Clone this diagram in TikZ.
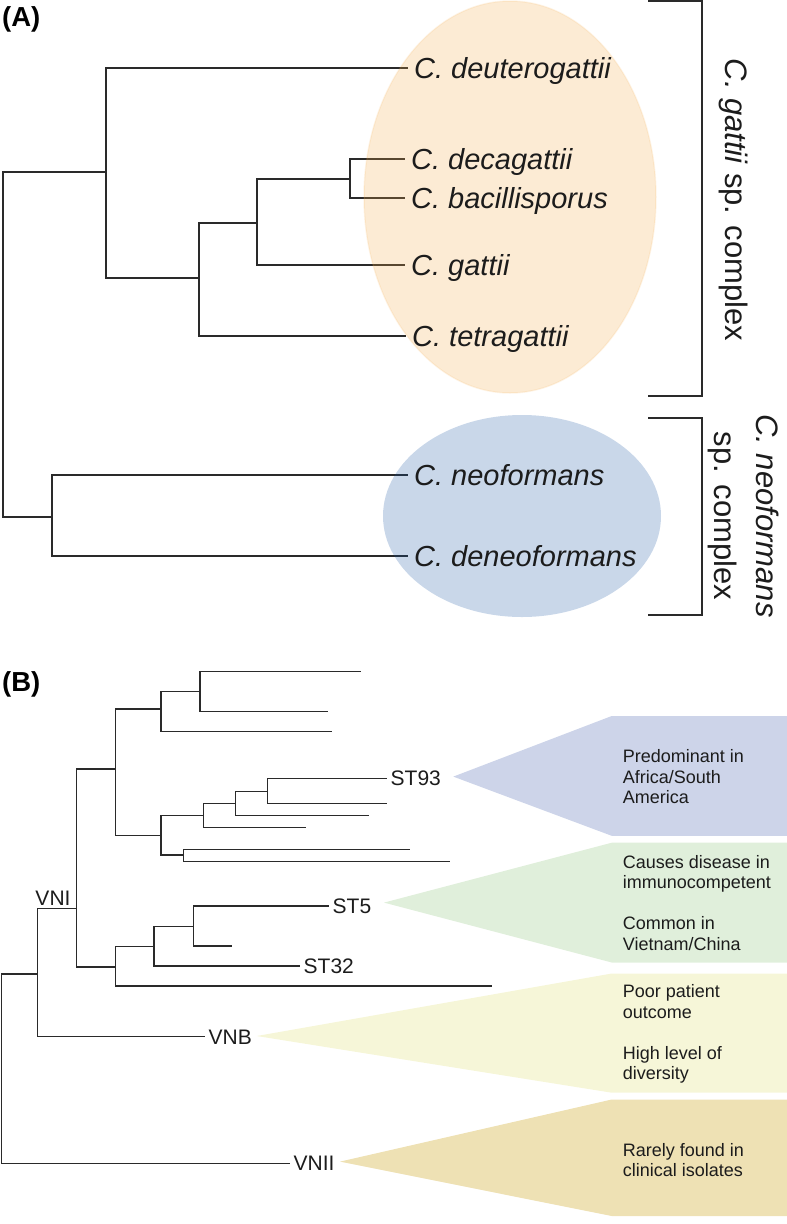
\documentclass[tikz,border=0pt]{standalone}
\usepackage{fontspec}
\setmainfont{Liberation Sans}
\usepackage{tikz}
\usetikzlibrary{calc,backgrounds}
\pgfdeclarelayer{tree}
\pgfdeclarelayer{tint}
\pgfsetlayers{tree,tint,main}
\definecolor{treeInk}{HTML}{2A2A2A}
\definecolor{textInk}{HTML}{1C1C1C}
\definecolor{gattiiTint}{HTML}{F2A844}
\definecolor{neoTint}{HTML}{14519F}
\definecolor{wedgeBlue}{HTML}{CDD4E9}
\definecolor{wedgeGreen}{HTML}{E0EFDB}
\definecolor{wedgeYellow}{HTML}{F6F6D8}
\definecolor{wedgeTan}{HTML}{EEE1B4}

\begin{document}
\begin{tikzpicture}[
    x=1pt, y=-1pt,
    clade/.style={draw=treeInk, line width=2.4pt},
    twig/.style={draw=treeInk, line width=1.3pt},
    taxon/.style={anchor=west, inner xsep=6pt, inner ysep=0pt, text height=20.8pt, text depth=0pt, text=textInk, font=\fontsize{29}{34}\selectfont\itshape},
    tag/.style={anchor=west, inner xsep=3.5pt, inner ysep=0pt, text height=15pt, text depth=0pt, text=textInk, font=\fontsize{21}{25}\selectfont},
    note/.style={anchor=west, align=left, inner sep=0pt, text=textInk, font=\fontsize{18}{20.5}\selectfont},
    panel/.style={anchor=base west, inner sep=0pt, font=\fontsize{27.5}{32}\selectfont\bfseries},
    group/.style={rotate=-90, inner sep=0pt, text=textInk, font=\fontsize{31}{42}\selectfont},
    bracket/.style={draw=treeInk, line width=2pt}
]
    \useasboundingbox (0,0) rectangle (787,1224);

    % (A) species tree
    \node[panel] (pA) at (2,26.7) {(A)};

    \coordinate (rA) at (3,344);
    \coordinate (gA) at (106,172);
    \coordinate (g2) at (199,278);
    \coordinate (g3) at (257,223);
    \coordinate (g4) at (350,179);
    \coordinate (nA) at (52,517);

    \node[taxon] (deut) at (408,68) {C. deuterogattii};
    \node[taxon] (deca) at (405,159) {C. decagattii};
    \node[taxon] (baci) at (405,198) {C. bacillisporus};
    \node[taxon] (gatt) at (405,265) {C. gattii};
    \node[taxon] (tetr) at (406,336) {C. tetragattii};
    \node[taxon] (neof) at (408,475) {C. neoformans};
    \node[taxon] (dene) at (408,556) {C. deneoformans};

    \begin{pgfonlayer}{tint}
        \fill[gattiiTint, fill opacity=0.23] (510,197) ellipse [x radius=146, y radius=196];
        \draw[gattiiTint, draw opacity=0.12, line width=1.5pt] (510,197) ellipse [x radius=146, y radius=196];
        \fill[neoTint, fill opacity=0.23] (522,516) ellipse [x radius=139, y radius=101];
    \end{pgfonlayer}

    \begin{pgfonlayer}{tree}
        \draw[clade] (rA) |- (gA);
        \draw[clade] (rA) |- (nA);
        \draw[clade] (gA) |- (deut.west);
        \draw[clade] (gA) |- (g2);
        \draw[clade] (g2) |- (g3);
        \draw[clade] (g2) |- (tetr.west);
        \draw[clade] (g3) |- (g4);
        \draw[clade] (g3) |- (gatt.west);
        \draw[clade] (g4) |- (deca.west);
        \draw[clade] (g4) |- (baci.west);
        \draw[clade] (nA) |- (neof.west);
        \draw[clade] (nA) |- (dene.west);
    \end{pgfonlayer}

    \draw[bracket] (648,1.3) -- (702,1.3) -- (702,396) -- (648,396);
    \draw[bracket] (648,418) -- (702,418) -- (702,615) -- (648,615);
    \node[group, anchor=base] (gcx) at (725,200) {\textit{C. gattii} sp. complex};
    \node[group, align=center] (ncx) at (743.7,516) {\textit{C. neoformans}\\sp. complex};

    % (B) VNI / VNB / VNII tree
    \node[panel] (pB) at (2,691.5) {(B)};

    \coordinate (rB) at (1.7,1070);
    \coordinate (vb) at (37.3,974);
    \coordinate (vn) at (76.3,908.3);
    \coordinate (b1) at (115.5,769);
    \coordinate (b2) at (161,709);
    \coordinate (b3) at (161,835.7);
    \coordinate (b4) at (200,691.7);
    \coordinate (b5) at (203.3,815.3);
    \coordinate (b6) at (183.7,855);
    \coordinate (b7) at (235.7,803.3);
    \coordinate (b8) at (267.7,791.7);
    \coordinate (c1) at (115.5,967);
    \coordinate (c2) at (154,946.3);
    \coordinate (c3) at (193.7,926.3);

    \coordinate (l1) at (361,671.7);
    \coordinate (l2) at (328.3,711.7);
    \coordinate (l3) at (332.3,731.7);
    \coordinate (l4) at (386.7,803.3);
    \coordinate (l5) at (369.3,815.3);
    \coordinate (l6) at (305.7,827.7);
    \coordinate (l7) at (410,849.3);
    \coordinate (l8) at (450,861.7);
    \coordinate (l9) at (232,946);
    \coordinate (l10) at (491.7,986);

    \node[tag] (st93) at (387,778.3) {ST93};
    \node[tag] (st5) at (329,906) {ST5};
    \node[tag] (st32) at (300,966) {ST32};
    \node[tag] (vnb) at (205,1036.7) {VNB};
    \node[tag] (vnii) at (290,1163.3) {VNII};
    \node[tag, anchor=base, inner sep=0pt] (vni) at (53,905.5) {VNI};

    \draw[twig] (rB) |- (vb);
    \draw[twig] (rB) |- (vnii.west);
    \draw[twig] (vb) |- (vn);
    \draw[twig] (vb) |- (vnb.west);
    \draw[twig] (vn) |- (b1);
    \draw[twig] (vn) |- (c1);
    \draw[twig] (b1) |- (b2);
    \draw[twig] (b1) |- (b3);
    \draw[twig] (b2) |- (b4);
    \draw[twig] (b2) |- (l3);
    \draw[twig] (b4) |- (l1);
    \draw[twig] (b4) |- (l2);
    \draw[twig] (b3) |- (b5);
    \draw[twig] (b3) |- (b6);
    \draw[twig] (b5) |- (b7);
    \draw[twig] (b5) |- (l6);
    \draw[twig] (b7) |- (b8);
    \draw[twig] (b7) |- (l5);
    \draw[twig] (b8) |- (st93.west);
    \draw[twig] (b8) |- (l4);
    \draw[twig] (b6) |- (l7);
    \draw[twig] (b6) |- (l8);
    \draw[twig] (c1) |- (c2);
    \draw[twig] (c1) |- (l10);
    \draw[twig] (c2) |- (c3);
    \draw[twig] (c2) |- (st32.west);
    \draw[twig] (c3) |- (st5.west);
    \draw[twig] (c3) |- (l9);

    \fill[wedgeBlue] (453.3,776.6) -- (611.7,716) -- (787,716) -- (787,835.8) -- (611.7,835.8) -- cycle;
    \fill[wedgeGreen] (384,902.6) -- (611.7,842.7) -- (787,842.7) -- (787,962.5) -- (611.7,962.5) -- cycle;
    \fill[wedgeYellow] (256.7,1036) -- (611.7,973.5) -- (787,973.5) -- (787,1092.7) -- (611.7,1092.7) -- cycle;
    \fill[wedgeTan] (340,1161.6) -- (611.7,1099.5) -- (787,1099.5) -- (787,1216) -- (611.7,1216) -- cycle;

    \node[note] (n93) at (622.7,776.6) {Predominant in\\Africa/South\\America};
    \node[note] (n5) at (622.7,902.6) {Causes disease in\\immunocompetent\\[20.5pt]Common in\\Vietnam/China};
    \node[note] (nb) at (622.7,1034) {Poor patient\\outcome\\[20.5pt]High level of\\diversity};
    \node[note] (nii) at (622.7,1160) {Rarely found in\\clinical isolates};
\end{tikzpicture}
\end{document}
